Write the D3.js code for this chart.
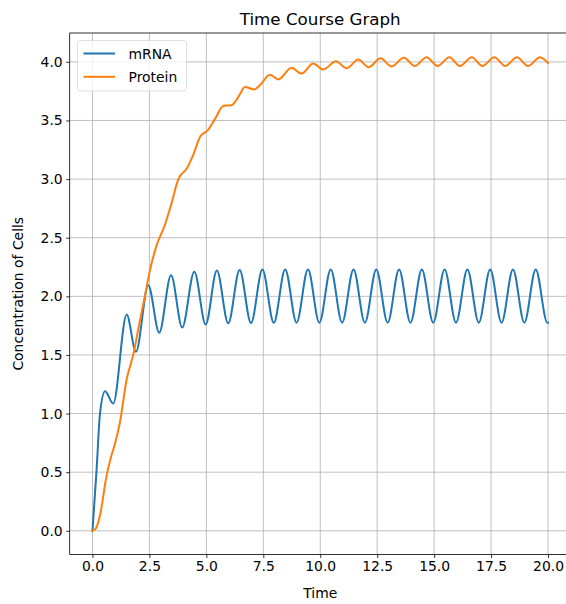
<!DOCTYPE html>
<html>
<head>
<meta charset="utf-8">
<script src="https://cdn.jsdelivr.net/npm/d3@7"></script>
<style>
  body { margin: 0; background: #fff; }
  svg { display: block; font-family: "DejaVu Sans", sans-serif; }
</style>
</head>
<body>
<div id="chart"></div>
<script>
// time points and values for each species
var mrnaTime = [0, 0.18, 0.33, 0.55, 0.91, 1.50, 1.91, 2.45, 2.93, 3.45, 3.94, 4.47, 4.97, 5.46, 5.96,
  6.46, 6.96, 7.46, 7.96, 8.46, 8.96, 9.46, 9.96, 10.46, 10.96, 11.46, 11.96, 12.46, 12.96, 13.46,
  13.96, 14.46, 14.96, 15.46, 15.96, 16.46, 16.96, 17.46, 17.96, 18.46, 18.96, 19.46, 19.97, 20.0];
var mrnaValues = [0, 0.52, 1.0, 1.19, 1.085, 1.845, 1.527, 2.095, 1.69, 2.18, 1.735, 2.21, 1.76, 2.22, 1.77,
  2.225, 1.772, 2.228, 1.774, 2.229, 1.775, 2.229, 1.775, 2.229, 1.775, 2.229, 1.775, 2.229, 1.775, 2.229,
  1.775, 2.229, 1.775, 2.229, 1.775, 2.229, 1.775, 2.229, 1.775, 2.229, 1.775, 2.229, 1.775, 1.775];

var proteinTime = [0, 0.15, 0.35, 0.6, 0.8, 1.0, 1.2, 1.5, 1.8, 2.05, 2.3, 2.52, 2.79, 3.18, 3.45, 3.77,
  4.14, 4.45, 4.72, 5.08, 5.4, 5.75, 6.1, 6.4, 6.7, 7.1, 7.35, 7.79, 8.16, 8.74, 9.18, 9.69, 10.13,
  10.69, 11.16, 11.67, 12.12, 12.65, 13.13, 13.67, 14.15, 14.67, 15.15, 15.67, 16.13, 16.65, 17.12,
  17.64, 18.12, 18.64, 19.12, 19.65, 20.0];
var proteinValues = [0, 0.02, 0.15, 0.45, 0.62, 0.75, 0.92, 1.29, 1.51, 1.76, 2.0, 2.22, 2.42, 2.61, 2.78, 3.0,
  3.09, 3.22, 3.36, 3.42, 3.52, 3.625, 3.63, 3.7, 3.785, 3.765, 3.80, 3.89, 3.85, 3.95, 3.90, 3.985, 3.935,
  4.005, 3.945, 4.02, 3.955, 4.03, 3.96, 4.035, 3.965, 4.04, 3.965, 4.04, 3.965, 4.04, 3.965,
  4.04, 3.965, 4.04, 3.965, 4.04, 3.99];

var seriesNames = ['mRNA', 'Protein'];
var seriesColors = ['#1f77b4', '#ff7f0e'];
var xTicks = [0, 2.5, 5, 7.5, 10, 12.5, 15, 17.5, 20];
var yTicks = [0, 0.5, 1, 1.5, 2, 2.5, 3, 3.5, 4];

var width = 566;
var height = 604;
var plot = { left: 69.7, right: 570.8, top: 33, bottom: 554.5 };
var fontSize = 13.9;
var lineWidth = 2;

var scaleX = d3.scaleLinear().domain([-1, 21]).range([plot.left, plot.right]);
var scaleY = d3.scaleLinear().domain([-0.2022, 4.2462]).range([plot.bottom, plot.top]);

var svg = d3.select('#chart')
  .append('svg')
  .attr('width', width)
  .attr('height', height);

svg.append('defs').append('clipPath')
  .attr('id', 'plot-clip')
  .append('rect')
  .attr('x', plot.left).attr('y', plot.top)
  .attr('width', plot.right - plot.left)
  .attr('height', plot.bottom - plot.top);

// grid
var grid = svg.append('g').classed('grid', true);
grid.selectAll('.vgrid')
  .data(xTicks)
  .enter()
  .append('line')
  .attr('x1', d => scaleX(d)).attr('x2', d => scaleX(d))
  .attr('y1', plot.top).attr('y2', plot.bottom)
  .attr('stroke', '#b0b0b0').attr('stroke-width', 0.8);
grid.selectAll('.hgrid')
  .data(yTicks)
  .enter()
  .append('line')
  .attr('x1', plot.left).attr('x2', plot.right)
  .attr('y1', d => scaleY(d)).attr('y2', d => scaleY(d))
  .attr('stroke', '#b0b0b0').attr('stroke-width', 0.8);

// series lines
var series = [
  { name: seriesNames[0], color: seriesColors[0], pts: d3.zip(mrnaTime, mrnaValues) },
  { name: seriesNames[1], color: seriesColors[1], pts: d3.zip(proteinTime, proteinValues) }
];

var line = d3.line()
  .x(d => scaleX(d[0]))
  .y(d => scaleY(d[1]))
  .curve(d3.curveMonotoneX);

svg.append('g')
  .attr('clip-path', 'url(#plot-clip)')
  .selectAll('path')
  .data(series)
  .enter()
  .append('path')
  .attr('d', d => line(d.pts))
  .attr('fill', 'none')
  .attr('stroke', d => d.color)
  .attr('stroke-width', lineWidth)
  .attr('stroke-linejoin', 'round')
  .attr('stroke-linecap', 'square');

// axes
var fmt = d3.format('.1f');
var xAxis = svg.append('g')
  .attr('transform', 'translate(0,' + plot.bottom + ')')
  .call(d3.axisBottom(scaleX).tickValues(xTicks).tickFormat(fmt).tickSize(3.5).tickPadding(3.5).tickSizeOuter(0));
var yAxis = svg.append('g')
  .attr('transform', 'translate(' + plot.left + ',0)')
  .call(d3.axisLeft(scaleY).tickValues(yTicks).tickFormat(fmt).tickSize(3.5).tickPadding(3.5).tickSizeOuter(0));

[xAxis, yAxis].forEach(function(ax) {
  ax.select('.domain').remove();
  ax.selectAll('line').attr('stroke', '#000').attr('stroke-width', 0.8);
  ax.selectAll('text')
    .attr('fill', '#000')
    .style('font-size', fontSize + 'px')
    .style('font-family', '"DejaVu Sans", sans-serif');
});

// spines
svg.append('rect')
  .attr('x', plot.left).attr('y', plot.top)
  .attr('width', plot.right - plot.left)
  .attr('height', plot.bottom - plot.top)
  .attr('fill', 'none')
  .attr('stroke', '#000')
  .attr('stroke-width', 0.8);

// titles
svg.append('text')
  .attr('x', (plot.left + plot.right) / 2)
  .attr('y', 25)
  .attr('text-anchor', 'middle')
  .style('font-size', '16.7px')
  .text('Time Course Graph');

svg.append('text')
  .attr('x', (plot.left + plot.right) / 2)
  .attr('y', 598)
  .attr('text-anchor', 'middle')
  .style('font-size', fontSize + 'px')
  .text('Time');

svg.append('text')
  .attr('transform', 'translate(23,' + (plot.top + plot.bottom) / 2 + ') rotate(-90)')
  .attr('text-anchor', 'middle')
  .style('font-size', fontSize + 'px')
  .text('Concentration of Cells');

// legend
var legend = svg.append('g').classed('legend', true);
legend.append('rect')
  .attr('x', 77.5).attr('y', 40.5)
  .attr('width', 109).attr('height', 50.5)
  .attr('rx', 2.8)
  .attr('fill', '#fff').attr('fill-opacity', 0.8)
  .attr('stroke', '#cccccc').attr('stroke-opacity', 0.8)
  .attr('stroke-width', 0.8);

var item = legend.selectAll('.item')
  .data(series)
  .enter()
  .append('g')
  .classed('item', true)
  .attr('transform', (d, i) => 'translate(0,' + (53.5 + i * 23.3) + ')');

item.append('line')
  .attr('x1', 83.5).attr('x2', 115)
  .attr('stroke', d => d.color)
  .attr('stroke-width', lineWidth);

item.append('text')
  .attr('x', 128.5)
  .attr('y', 5)
  .style('font-size', fontSize + 'px')
  .text(d => d.name);
</script>
</body>
</html>
